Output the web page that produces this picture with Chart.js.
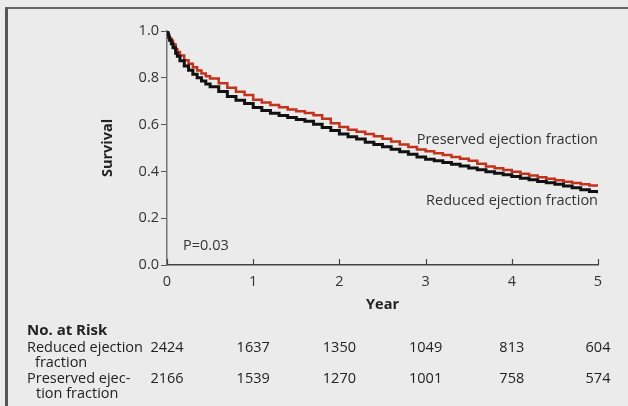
<!DOCTYPE html>
<html>
<head>
<meta charset="utf-8">
<script src="https://cdn.jsdelivr.net/npm/chart.js@4.4.1/dist/chart.umd.min.js"></script>
<style>
  html, body { margin: 0; padding: 0; background: #ebebeb; }
  #wrap { position: relative; width: 628px; height: 406px; overflow: hidden; }
  #frame {
    position: absolute; left: 5px; top: 7px; right: -10px; bottom: -10px;
    border-top: 2px solid #666; border-left: 3px solid #555;
  }
  canvas { position: absolute; left: 0; top: 0; }
</style>
</head>
<body>
<div id="wrap">
  <div id="frame"></div>
  <canvas id="myChart" width="628" height="406"></canvas>
</div>
<script>
"use strict";

const years = [0, 0.01, 0.02, 0.03, 0.05, 0.07, 0.1, 0.12, 0.15, 0.2, 0.25, 0.3, 0.35,
  0.4, 0.45, 0.5, 0.6, 0.7, 0.8, 0.9,
  1.0, 1.1, 1.2, 1.3, 1.4, 1.5, 1.6, 1.7, 1.8, 1.9, 2.0, 2.1, 2.2, 2.3, 2.4, 2.5,
  2.6, 2.7, 2.8, 2.9, 3.0, 3.1, 3.2, 3.3, 3.4, 3.5, 3.6, 3.7, 3.8, 3.9, 4.0, 4.1,
  4.2, 4.3, 4.4, 4.5, 4.6, 4.7, 4.8, 4.9, 5.0];

const reducedSurvival = [1.0, 0.985, 0.972, 0.96, 0.945, 0.928, 0.905, 0.892, 0.873,
  0.85, 0.832, 0.815, 0.8, 0.786, 0.774, 0.762,
  0.741, 0.72, 0.704, 0.69, 0.673, 0.66, 0.648, 0.639, 0.63, 0.622, 0.614, 0.602,
  0.588, 0.575, 0.56, 0.548, 0.538, 0.525, 0.515, 0.505, 0.495, 0.484, 0.473, 0.462,
  0.452, 0.446, 0.438, 0.431, 0.423, 0.415, 0.407, 0.399, 0.392, 0.386, 0.378, 0.371,
  0.364, 0.357, 0.351, 0.345, 0.338, 0.33, 0.322, 0.314, 0.307];

const preservedSurvival = [1.0, 0.989, 0.978, 0.968, 0.958, 0.942, 0.922, 0.91, 0.895,
  0.875, 0.86, 0.845, 0.831, 0.818, 0.807, 0.797,
  0.777, 0.757, 0.74, 0.726, 0.706, 0.694, 0.684, 0.674, 0.665, 0.657, 0.65, 0.64,
  0.625, 0.606, 0.59, 0.578, 0.569, 0.56, 0.55, 0.54, 0.528, 0.515, 0.504, 0.494,
  0.486, 0.478, 0.47, 0.462, 0.454, 0.445, 0.433, 0.421, 0.413, 0.406, 0.398, 0.39,
  0.383, 0.375, 0.369, 0.362, 0.356, 0.35, 0.345, 0.34, 0.335];

// numbers at risk at each whole year
const riskYears = [0, 1, 2, 3, 4, 5];
const reducedRisk = [2424, 1637, 1350, 1049, 813, 604];
const preservedRisk = [2166, 1539, 1270, 1001, 758, 574];

const FONT = "'Open Sans', 'Noto Sans', sans-serif";
const TEXT = "#333";
const SIZE = 14.5;

const toPoints = (vals) => years.map((x, i) => ({ x: x, y: vals[i] }));

// inward tick marks on the year axis
const xTicks = {
  id: "xTicks",
  afterDatasetsDraw(chart) {
    const { ctx, scales: { x, y } } = chart;
    const base = y.getPixelForValue(0);
    ctx.save();
    ctx.strokeStyle = "#444";
    ctx.lineWidth = 1.2;
    riskYears.forEach((yr) => {
      const px = Math.round(x.getPixelForValue(yr)) + 0.5;
      ctx.beginPath();
      ctx.moveTo(px, base);
      ctx.lineTo(px, base - 6);
      ctx.stroke();
    });
    ctx.restore();
  },
};

// curve labels, p value and the at-risk table
const extras = {
  id: "extras",
  afterDraw(chart) {
    const { ctx, scales: { x, y } } = chart;
    ctx.save();
    ctx.fillStyle = TEXT;
    ctx.font = SIZE + "px " + FONT;
    ctx.textBaseline = "middle";

    ctx.textAlign = "right";
    ctx.fillText("Preserved ejection fraction", x.getPixelForValue(5), y.getPixelForValue(0.534));
    ctx.fillText("Reduced ejection fraction", x.getPixelForValue(5), y.getPixelForValue(0.275));

    ctx.textAlign = "left";
    ctx.fillText("P=0.03", x.getPixelForValue(0.186), y.getPixelForValue(0.081));

    ctx.fillStyle = "#222";
    ctx.font = "bold 15px " + FONT;
    ctx.fillText("No. at Risk", 27, 331);
    ctx.font = SIZE + "px " + FONT;
    ctx.fillText("Reduced ejection", 27, 348);
    ctx.fillText("fraction", 35, 363);
    ctx.fillText("Preserved ejec-", 27, 379);
    ctx.fillText("tion fraction", 36, 394);

    ctx.textAlign = "center";
    riskYears.forEach((yr, i) => {
      const px = x.getPixelForValue(yr);
      ctx.fillText(String(reducedRisk[i]), px, 348);
      ctx.fillText(String(preservedRisk[i]), px, 379);
    });
    ctx.restore();
  },
};

new Chart("myChart", {
  type: "line",
  data: {
    datasets: [
      {
        label: "Reduced ejection fraction",
        data: toPoints(reducedSurvival),
        borderColor: "#111111",
        borderWidth: 3,
        stepped: true,
        pointRadius: 0,
        fill: false,
      },
      {
        label: "Preserved ejection fraction",
        data: toPoints(preservedSurvival),
        borderColor: "#c3321d",
        borderWidth: 2.5,
        stepped: true,
        pointRadius: 0,
        fill: false,
      },
    ],
  },
  options: {
    responsive: false,
    animation: false,
    layout: { padding: { left: 95, top: 31, right: 30, bottom: 88 } },
    plugins: {
      legend: { display: false },
      tooltip: { enabled: false },
    },
    scales: {
      x: {
        type: "linear",
        min: 0,
        max: 5,
        afterFit: (scale) => { scale.height = 53; },
        grid: { display: false, drawTicks: false },
        border: { display: true, color: "#444", width: 1.5 },
        ticks: {
          stepSize: 1,
          padding: 8,
          color: TEXT,
          font: { family: FONT, size: SIZE },
        },
        title: {
          display: true,
          text: "Year",
          color: "#222",
          font: { family: FONT, size: SIZE, weight: "bold" },
        },
      },
      y: {
        min: 0,
        max: 1,
        afterFit: (scale) => { scale.width = 72; },
        grid: { display: true, drawOnChartArea: false, drawTicks: true, tickLength: 6, color: "#555" },
        border: { display: true, color: "#777", width: 1.5 },
        ticks: {
          stepSize: 0.2,
          padding: 2,
          color: TEXT,
          font: { family: FONT, size: SIZE },
          callback: (v) => v.toFixed(1),
        },
        title: {
          display: true,
          text: "Survival",
          color: "#222",
          font: { family: FONT, size: SIZE, weight: "bold" },
        },
      },
    },
  },
  plugins: [xTicks, extras],
});
</script>
</body>
</html>
